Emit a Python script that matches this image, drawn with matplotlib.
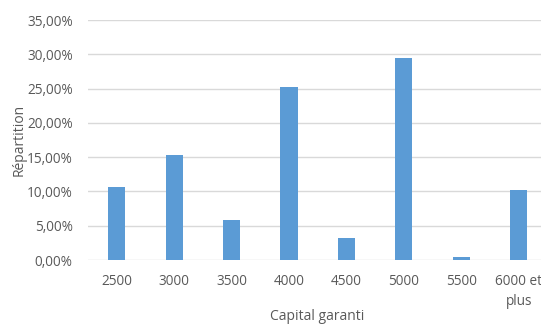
import matplotlib
matplotlib.use("Agg")
import matplotlib.pyplot as plt
from matplotlib.ticker import FuncFormatter, MultipleLocator

plt.rcParams['font.family'] = ['Open Sans', 'DejaVu Sans']

categories = ["2500", "3000", "3500", "4000", "4500", "5000", "5500", "6000 et\nplus"]
repartition = [10.6, 15.3, 5.9, 25.2, 3.25, 29.4, 0.45, 10.2]

bar_color = "#5B9BD5"
text_color = "#595959"
grid_color = "#D9D9D9"

fig = plt.figure(figsize=(5.41, 3.27), dpi=100)
ax = fig.add_axes([88 / 541, 1 - 260 / 327, 459.4 / 541, 240 / 327])

x = range(len(categories))
ax.bar(x, repartition, width=0.3, color=bar_color, zorder=3)

ax.set_xlim(-0.5, len(categories) - 0.5)
ax.set_ylim(0, 35)
ax.yaxis.set_major_locator(MultipleLocator(5))
ax.yaxis.set_major_formatter(FuncFormatter(lambda v, p: f"{v:.2f}%".replace(".", ",")))
ax.set_xticks(list(x))
ax.set_xticklabels(categories, linespacing=1.45)

ax.grid(axis="y", color=grid_color, linewidth=1.0, zorder=0)
for s in ax.spines.values():
    s.set_visible(False)
ax.tick_params(axis="both", length=0, labelsize=9.8, colors=text_color)
ax.tick_params(axis="y", pad=11)
ax.tick_params(axis="x", pad=10)
for lbl in ax.get_xticklabels():
    lbl.set_verticalalignment("top")

ax.set_ylabel("Répartition", fontsize=10, color=text_color, labelpad=0)
fig.text(317 / 541, 1 - 317 / 327, "Capital garanti", ha="center", va="center",
         fontsize=10, color=text_color)

fig.savefig("out.png", dpi=100)
